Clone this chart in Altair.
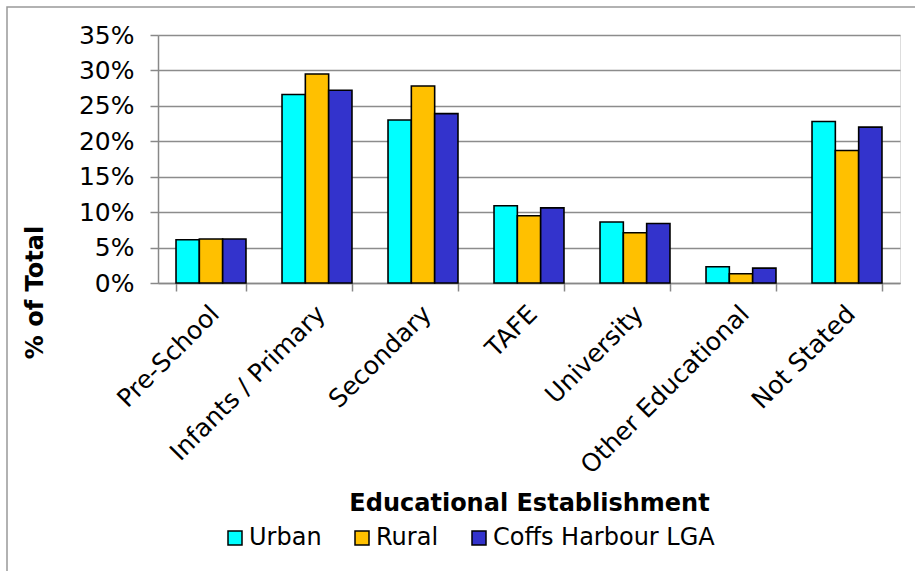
import altair as alt
import pandas as pd

categories = ["Pre-School", "Infants / Primary", "Secondary", "TAFE",
              "University", "Other Educational", "Not Stated"]
series = ["Urban", "Rural", "Coffs Harbour LGA"]
urban = [6.1, 26.6, 23.0, 10.9, 8.6, 2.3, 22.8]
rural = [6.2, 29.5, 27.8, 9.5, 7.1, 1.3, 18.7]
coffs = [6.2, 27.2, 23.9, 10.6, 8.4, 2.1, 22.0]
colors = ["#00FFFF", "#FFC000", "#3333CC"]

rows = []
for s, vals in zip(series, [urban, rural, coffs]):
    for c, v in zip(categories, vals):
        rows.append({"Category": c, "Series": s, "Value": v / 100.0})
df = pd.DataFrame(rows)

FONT = "DejaVu Sans"

bars = alt.Chart(df).mark_bar(stroke="black", strokeWidth=1.6).encode(
    x=alt.X("Category:N", sort=categories,
            scale=alt.Scale(paddingInner=0.34, paddingOuter=0.17),
            axis=alt.Axis(title="Educational Establishment", labelAngle=-45,
                          labelAlign="right", labelBaseline="top",
                          labelOffset=-5, labelPadding=10, labelLimit=0,
                          labelFontSize=25, labelFont=FONT, labelColor="black",
                          tickBand="extent", tickSize=8, tickColor="#888888",
                          tickWidth=1.5, domainColor="#888888", domainWidth=1.5,
                          titleFont=FONT, titleFontSize=24, titleFontWeight="bold",
                          titleColor="black", titleX=371, titleY=220,
                          titleBaseline="middle", titleAlign="center",
                          grid=False)),
    xOffset=alt.XOffset("Series:N", sort=series, scale=alt.Scale(domain=series)),
    y=alt.Y("Value:Q", scale=alt.Scale(domain=[0, 0.35]),
            axis=alt.Axis(title="% of Total", format=".0%", values=[0, 0.05, 0.1, 0.15, 0.2, 0.25, 0.3, 0.35],
                          labelFontSize=25, labelFont=FONT, labelColor="black",
                          labelPadding=16, tickSize=8, tickColor="#888888",
                          tickWidth=1.5, domainColor="#888888", domainWidth=1.5,
                          gridColor="#8c8c8c", gridWidth=1.5,
                          titleFont=FONT, titleFontSize=24, titleFontWeight="bold",
                          titleColor="black", titleAngle=-90, titleX=-123,
                          titleY=257, titleBaseline="middle", titleAlign="center")),
    color=alt.Color("Series:N", sort=series,
                    scale=alt.Scale(domain=series, range=colors),
                    legend=alt.Legend(title=None, orient="none", direction="horizontal",
                                      legendX=65, legendY=491,
                                      symbolType="square", symbolSize=196,
                                      symbolStrokeColor="black", symbolStrokeWidth=1.5,
                                      labelFont=FONT, labelFontSize=24, labelLimit=0,
                                      labelColor="black", labelOffset=2,
                                      columnPadding=28)),
)

frame = alt.Chart(pd.DataFrame({"a": [0]})).mark_rect(
    fill=None, stroke="#999999", strokeWidth=1.5
).encode(x=alt.value(-151), x2=alt.value(762), y=alt.value(-28), y2=alt.value(545))

chart = alt.layer(frame, bars).properties(
    width=742, height=248,
    autosize=alt.AutoSizeParams(type="none"),
    padding={"left": 158, "top": 35, "right": 15, "bottom": 288},
).configure_view(stroke=None).configure(background="white")

chart.save("out.html", embed_options={"renderer": "svg", "actions": False})
